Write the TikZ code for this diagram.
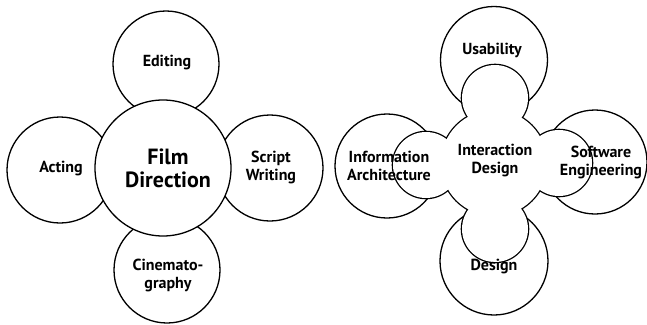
\documentclass[tikz,border=0pt]{standalone}
\usepackage{fontspec}
\setmainfont{PT Sans}
\usetikzlibrary{positioning}

\tikzset{
    bubble/.style={circle, draw, fill=white, line width=1.3pt, inner sep=0pt},
    bud/.style={circle, draw, line width=2.6pt, inner sep=0pt},
    budfill/.style={circle, fill=white, inner sep=0pt},
    tag/.style={align=center, inner sep=0pt, font=\bfseries\fontsize{16}{18}\selectfont},
    bigtag/.style={align=center, inner sep=0pt, font=\bfseries\fontsize{22}{23}\selectfont},
}

\begin{document}
\begin{tikzpicture}[x=1pt, y=-1pt]
    \useasboundingbox (0,0) rectangle (647,324);

    % Outer circles of the film diagram
    \foreach \name/\x/\y in {editing/166/64, acting/60/170, script/270/168, cinema/167/270} {
        \node[bubble, minimum size=106pt] (\name) at (\x,\y) {};
    }
    \node[bubble, minimum size=136pt] (film) at (163,168) {};

    % Film labels
    \node[tag] (editingtxt) at (167,63) {Editing};
    \node[tag] (actingtxt) at (61,169) {Acting};
    \node[tag] (scripttxt) at (271,167) {Script\\Writing};
    \node[tag] (cinematxt) at (168,275) {Cinemato-\\graphy};
    \node[bigtag] (filmtxt) at (168,168) {Film\\Direction};

    % Outer circles of the interaction diagram
    \node[bubble, minimum size=107pt] (usability) at (494,60) {};
    \node[bubble, minimum size=104pt] (infoarch) at (387,166) {};
    \node[bubble, minimum size=104pt] (software) at (595,162) {};
    \node[bubble, minimum size=108pt] (design) at (494,261) {};

    % Flower in the middle: thick outline first, then white fill on top
    \foreach \look in {bud, budfill} {
        \node[\look, minimum size=66pt] (budN) at (495,98) {};
        \node[\look, minimum size=66pt] (budW) at (426,165) {};
        \node[\look, minimum size=66pt] (budE) at (559,163) {};
        \node[\look, minimum size=66pt] (budS) at (495,229) {};
        \node[\look, minimum size=106pt] (core) at (494,163) {};
    }

    % Interaction labels
    \node[tag] (usabilitytxt) at (492,50) {Usability};
    \node[tag] (infoarchtxt) at (389,166) {Information\\Architecture};
    \node[tag] (softwaretxt) at (601,162) {Software\\Engineering};
    \node[tag] (designtxt) at (494,267) {Design};
    \node[tag] (coretxt) at (495,161) {Interaction\\Design};
\end{tikzpicture}
\end{document}
